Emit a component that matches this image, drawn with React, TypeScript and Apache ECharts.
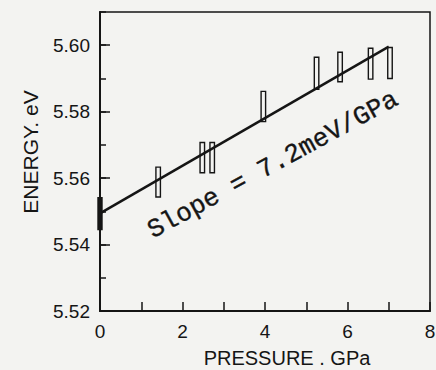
import React, { useEffect, useRef } from "react";
import * as echarts from "echarts";

// Measured points (pressure in GPa, energy range in eV)
const pressure = [0, 1.41, 2.48, 2.72, 3.96, 5.25, 5.82, 6.56, 7.03];
const energyLow = [5.5445, 5.5543, 5.5616, 5.5616, 5.577, 5.5867, 5.589, 5.5898, 5.59];
const energyHigh = [5.5541, 5.5633, 5.5707, 5.5707, 5.5861, 5.5964, 5.5979, 5.5991, 5.5993];
const filled = [true, false, false, false, false, false, false, false, false];

// Linear fit
const fitPressure = [0, 7.0];
const fitEnergy = [5.5494, 5.5996];

const xTicks = [0, 2, 4, 6, 8];
const yTicks = [5.52, 5.54, 5.56, 5.58, 5.6];

const INK = "#151515";
const PAPER = "#f3f3f1";
const SANS = "'Liberation Sans', Arial, Helvetica, sans-serif";

export default function App() {
  const ref = useRef<HTMLDivElement>(null);
  useEffect(() => {
    if (!ref.current) return;
    const chart = echarts.init(ref.current, null, { renderer: "svg" });
    const barData = pressure.map((p, i) => [p, energyLow[i], energyHigh[i], filled[i] ? 1 : 0]);
    const fitData = fitPressure.map((p, i) => [p, fitEnergy[i]]);
    chart.setOption({
      animation: false,
      backgroundColor: PAPER,
      grid: {
        left: 100,
        right: 6,
        top: 12,
        bottom: 59,
        show: true,
        borderColor: INK,
        borderWidth: 1.5,
        containLabel: false,
        outerBoundsMode: "none",
      },
      xAxis: {
        type: "value",
        min: 0,
        max: 8,
        interval: 1,
        splitLine: { show: false },
        axisLine: { lineStyle: { color: INK, width: 2 } },
        axisTick: { inside: true, length: 9, lineStyle: { color: INK, width: 1.5 } },
        axisLabel: {
          margin: 11,
          color: INK,
          fontFamily: SANS,
          fontSize: 19,
          formatter: (v: number) => (xTicks.indexOf(v) >= 0 ? String(v) : ""),
        },
      },
      yAxis: [
        {
          type: "value",
          position: "left",
          min: 5.52,
          max: 5.61,
          interval: 0.02,
          splitLine: { show: false },
          axisLine: { show: true, lineStyle: { color: INK, width: 2 } },
          axisTick: { inside: true, length: 10, lineStyle: { color: INK, width: 1.5 } },
          axisLabel: {
            margin: 10,
            showMaxLabel: false,
            color: INK,
            fontFamily: SANS,
            fontSize: 19,
            formatter: (v: number) => {
              const m = yTicks.find((t) => Math.abs(t - v) < 1e-6);
              return m === undefined ? "" : m.toFixed(2);
            },
          },
        },
        {
          type: "value",
          position: "left",
          offset: 0,
          min: 5.52,
          max: 5.61,
          interval: 0.01,
          splitLine: { show: false },
          axisLine: { show: false },
          axisTick: { inside: true, length: 6, lineStyle: { color: INK, width: 1.5 } },
          axisLabel: { show: false },
        },
      ],
      series: [
        {
          type: "line",
          data: fitData,
          symbol: "none",
          lineStyle: { color: INK, width: 2.5 },
          z: 2,
        },
        {
          type: "custom",
          data: barData,
          z: 3,
          renderItem: (params: any, api: any) => {
            const x = api.value(0);
            const lo = api.coord([x, api.value(1)]);
            const hi = api.coord([x, api.value(2)]);
            const isFilled = api.value(3) === 1;
            const w = isFilled ? 4 : 4.5;
            return {
              type: "rect",
              shape: { x: lo[0] - w / 2, y: hi[1], width: w, height: lo[1] - hi[1] },
              style: {
                fill: isFilled ? INK : "none",
                stroke: INK,
                lineWidth: 1.4,
              },
            };
          },
        },
      ],
      graphic: [
        {
          type: "text",
          x: 273,
          y: 165,
          rotation: 0.5,
          style: {
            text: "Slope = 7.2meV/GPa",
            fill: INK,
            stroke: INK,
            lineWidth: 0.35,
            fontFamily: "'Liberation Mono', 'Courier New', monospace",
            fontSize: 26,
            fontWeight: "normal",
            fontStyle: "normal",
            align: "center",
            verticalAlign: "middle",
          },
        },
        {
          type: "text",
          x: 30,
          y: 152,
          rotation: Math.PI / 2,
          style: {
            text: "ENERGY. eV",
            fill: INK,
            fontFamily: SANS,
            fontSize: 21,
            align: "center",
            verticalAlign: "middle",
          },
        },
        {
          type: "text",
          x: 287,
          y: 358,
          style: {
            text: "PRESSURE . GPa",
            fill: INK,
            fontFamily: SANS,
            fontSize: 20,
            align: "center",
            verticalAlign: "middle",
          },
        },
      ],
    });
    return () => chart.dispose();
  }, []);
  return (
    <div
      ref={ref}
      style={{ position: "fixed", left: 0, top: 0, width: 436, height: 370 }}
    />
  );
}
